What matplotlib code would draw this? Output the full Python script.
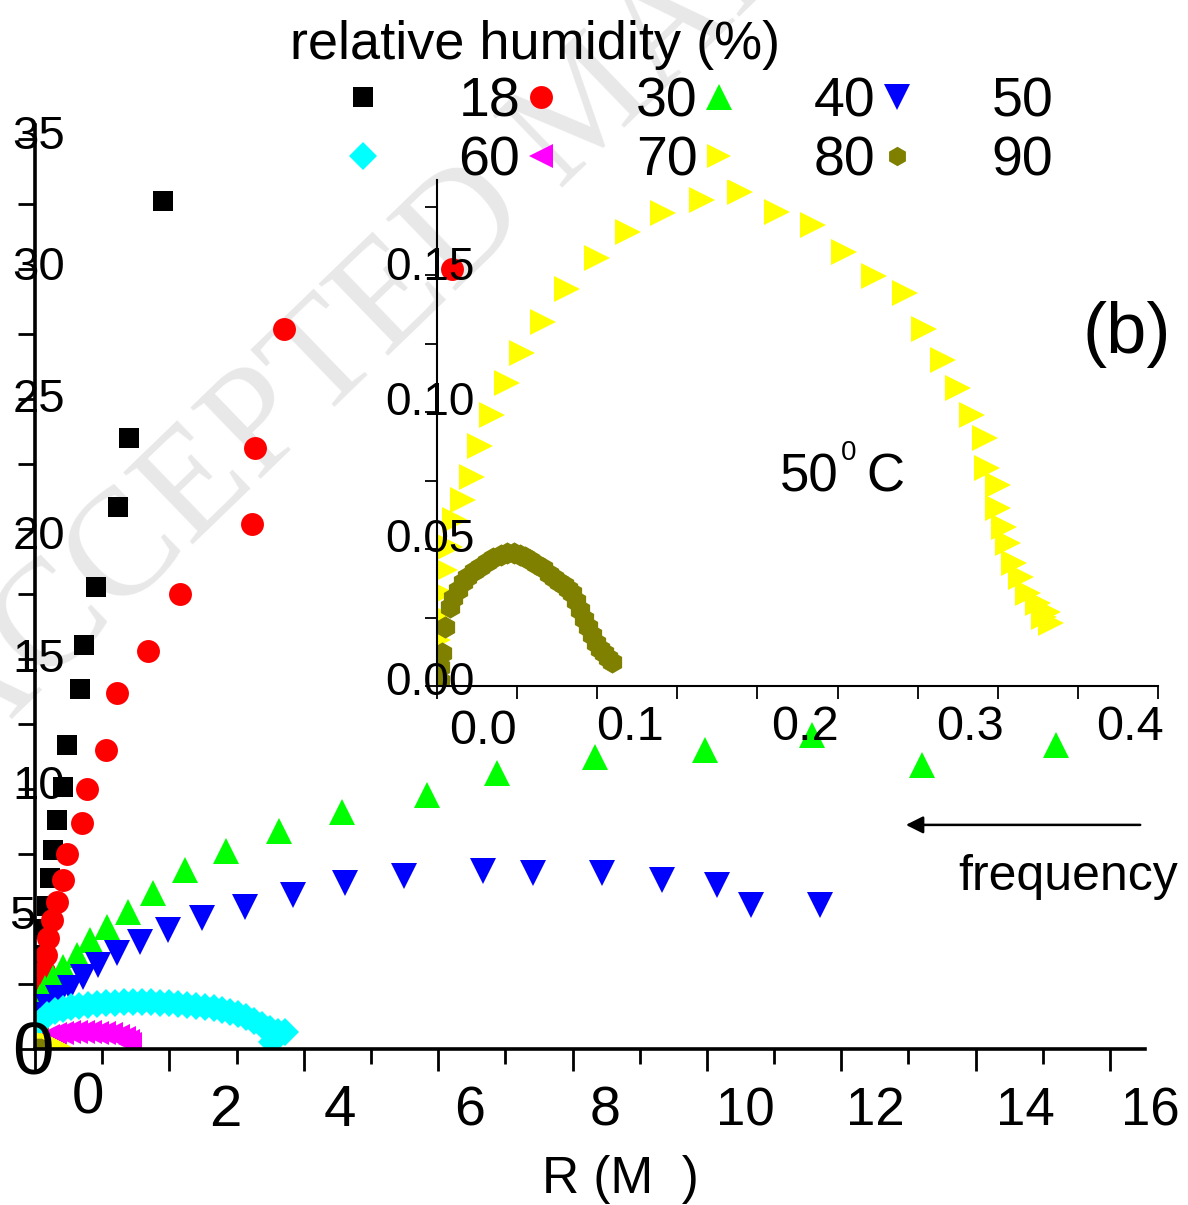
import matplotlib
matplotlib.use('Agg')
import matplotlib.pyplot as plt
from matplotlib.ticker import MultipleLocator

# Nyquist data, main panel (R and X in M-ohm), one list pair per humidity
rh_labels = ['18', '30', '40', '50', '60', '70', '80', '90']

x18 = [1.905, 1.40, 1.235, 0.908, 0.729, 0.670, 0.476, 0.417, 0.327, 0.268, 0.223, 0.18, 0.13, 0.10, 0.07, 0.045, 0.015]
y18 = [32.6, 23.5, 20.85, 17.77, 15.54, 13.85, 11.69, 10.08, 8.81, 7.65, 6.58, 5.5, 4.6, 3.6, 2.65, 1.7, 0.7]

x30 = [6.2, 3.71, 3.27, 3.23, 2.16, 1.68, 1.22, 1.06, 0.77, 0.70, 0.48, 0.42, 0.33, 0.25, 0.19, 0.16, 0.13, 0.10, 0.07, 0.045, 0.03, 0.015]
y30 = [30.0, 27.7, 23.1, 20.2, 17.5, 15.3, 13.7, 11.5, 10.0, 8.7, 7.5, 6.5, 5.65, 4.96, 4.27, 3.6, 3.0, 2.46, 1.9, 1.3, 0.73, 0.15]

x40 = [15.19, 13.20, 11.56, 9.97, 8.33, 6.875, 5.83, 4.57, 3.63, 2.84, 2.23, 1.76, 1.38, 1.07, 0.82, 0.625, 0.42, 0.27, 0.15, 0.07, 0.03]
y40 = [11.69, 10.92, 12.08, 11.5, 11.23, 10.62, 9.77, 9.12, 8.38, 7.62, 6.88, 6.0, 5.27, 4.69, 4.19, 3.62, 3.15, 2.73, 2.35, 2.0, 1.1]

x50 = [11.68, 10.65, 10.15, 9.33, 8.44, 7.41, 6.67, 5.49, 4.61, 3.84, 3.125, 2.485, 1.98, 1.56, 1.22, 0.94, 0.71, 0.52, 0.342, 0.19, 0.10, 0.045]
y50 = [5.54, 5.54, 6.31, 6.5, 6.77, 6.77, 6.85, 6.65, 6.38, 5.92, 5.46, 5.04, 4.58, 4.12, 3.69, 3.23, 2.77, 2.35, 1.96, 1.6, 1.31, 0.92]

x60 = [0.015, 0.074, 0.18, 0.30, 0.42, 0.54, 0.65, 0.79, 0.92, 1.06, 1.19, 1.32, 1.46, 1.59, 1.73, 1.86, 1.99, 2.13, 2.26,
       2.40, 2.53, 2.66, 2.78, 2.90, 3.02, 3.14, 3.26, 3.38, 3.50, 3.62, 3.72, 3.53]
y60 = [0.35, 1.04, 1.31, 1.46, 1.54, 1.62, 1.65, 1.69, 1.73, 1.77, 1.77, 1.81, 1.81, 1.81, 1.81, 1.77, 1.77, 1.73, 1.69,
       1.65, 1.62, 1.58, 1.50, 1.42, 1.35, 1.23, 1.08, 0.92, 0.77, 0.65, 0.65, 0.27]

x70 = [0.045, 0.10, 0.19, 0.30, 0.40, 0.51, 0.61, 0.71, 0.82, 0.92, 1.03, 1.13, 1.24, 1.32, 1.38, 1.41]
y70 = [0.15, 0.35, 0.50, 0.58, 0.62, 0.65, 0.65, 0.65, 0.65, 0.62, 0.62, 0.58, 0.50, 0.42, 0.31, 0.19]

# 80 % and 90 % (also shown enlarged in the inset)
x80 = [0.0006, 0.0013, 0.0031, 0.005, 0.0081, 0.0113, 0.0163, 0.0219, 0.0269, 0.0344, 0.0438, 0.0531, 0.0663, 0.0813,
       0.100, 0.1194, 0.1413, 0.1656, 0.1894, 0.2125, 0.2344, 0.2538, 0.2725, 0.2919, 0.3038, 0.3156, 0.325, 0.3338,
       0.3419, 0.3431, 0.350, 0.350, 0.3538, 0.3563, 0.360, 0.3644, 0.3688, 0.375, 0.3788, 0.3813, 0.3831]
y80 = [0.0168, 0.0259, 0.0339, 0.0423, 0.0507, 0.0606, 0.0679, 0.0763, 0.0876, 0.0989, 0.1106, 0.1215, 0.1328, 0.1449,
       0.1562, 0.1657, 0.1726, 0.1774, 0.1803, 0.1730, 0.1682, 0.1584, 0.1496, 0.1434, 0.1303, 0.1190, 0.1088, 0.0989,
       0.0905, 0.0796, 0.0734, 0.065, 0.058, 0.0522, 0.0449, 0.0398, 0.0339, 0.0303, 0.0252, 0.027, 0.023]

x90 = [0.002, 0.002, 0.003, 0.005, 0.008, 0.010, 0.013, 0.016, 0.019, 0.023, 0.027, 0.031, 0.035, 0.040, 0.044, 0.048,
       0.052, 0.055, 0.058, 0.062, 0.066, 0.070, 0.073, 0.076, 0.079, 0.082, 0.084, 0.087, 0.089, 0.092, 0.094, 0.097,
       0.099, 0.102, 0.104, 0.107, 0.109]
y90 = [0.002, 0.007, 0.012, 0.0215, 0.0288, 0.032, 0.035, 0.0378, 0.0398, 0.0418, 0.0434, 0.0452, 0.0467, 0.0478, 0.0485, 0.0484,
       0.0478, 0.047, 0.046, 0.0445, 0.043, 0.041, 0.0394, 0.038, 0.0369, 0.0355, 0.034, 0.031, 0.0277, 0.0245, 0.0215, 0.0185,
       0.0157, 0.0135, 0.012, 0.0102, 0.0088]

series = [
    (x18, y18, 's', '#000000', 14.5),
    (x30, y30, 'o', '#ff0000', 16.5),
    (x40, y40, '^', '#00ff00', 18.5),
    (x50, y50, 'v', '#0000ff', 18.5),
    (x60, y60, 'D', '#00ffff', 14.5),
    (x70, y70, '<', '#ff00ff', 17),
    (x80, y80, '>', '#ffff00', 17),
    (x90, y90, 'h', '#808000', 14),
]

W, H = 1188, 1205
sans = ['Liberation Sans', 'DejaVu Sans']


def fx(px):
    return px / W


def fy(py):
    return 1 - py / H


fig = plt.figure(figsize=(W / 100, H / 100), dpi=100)

# faint watermark behind everything (below the axes)
fig.text(fx(591), fy(110), 'ACCEPTED MANUSCRIPT', rotation=44, rotation_mode='anchor',
         ha='center', va='center', fontsize=110, color='#e8e8e8',
         family=['Liberation Serif', 'DejaVu Serif'], zorder=-5)

# main axes
ax = fig.add_axes([fx(35), fy(1049), fx(1145) - fx(35), fy(125) - fy(1049)])
ax.set_facecolor('none')
ax.set_xlim(0, 16.52)
ax.set_ylim(0, 35.54)
for s in ['top', 'right']:
    ax.spines[s].set_visible(False)
for s in ['left', 'bottom']:
    ax.spines[s].set_linewidth(2.6)
ax.xaxis.set_major_locator(MultipleLocator(2))
ax.xaxis.set_minor_locator(MultipleLocator(1))
ax.yaxis.set_major_locator(MultipleLocator(5))
ax.yaxis.set_minor_locator(MultipleLocator(2.5))
ax.tick_params(axis='both', which='both', direction='out', width=2,
               labelbottom=False, labelleft=False)
ax.tick_params(axis='x', which='major', length=16)
ax.tick_params(axis='x', which='minor', length=11)
ax.tick_params(axis='y', which='both', length=12)

handles = []
for xs, ys, mk, col, ms in series:
    h, = ax.plot(xs, ys, ls='none', marker=mk, ms=ms, color=col, mew=0)
    handles.append(h)

# frequency arrow
ax.annotate('', xy=(12.92, 8.62), xytext=(16.49, 8.62), annotation_clip=False,
            arrowprops=dict(arrowstyle='-|>', lw=1.8, color='k', mutation_scale=26))

# inset
ins = fig.add_axes([fx(437), fy(686), fx(1158) - fx(437), fy(180) - fy(686)])
ins.set_facecolor('none')
ins.set_xlim(0, 0.45)
ins.set_ylim(0, 0.1847)
for s in ['top', 'right']:
    ins.spines[s].set_visible(False)
for s in ['left', 'bottom']:
    ins.spines[s].set_linewidth(1.5)
ins.xaxis.set_major_locator(MultipleLocator(0.1))
ins.xaxis.set_minor_locator(MultipleLocator(0.05))
ins.yaxis.set_major_locator(MultipleLocator(0.05))
ins.yaxis.set_minor_locator(MultipleLocator(0.025))
ins.tick_params(axis='both', which='both', direction='out', width=1.3, length=9,
                labelbottom=False, labelleft=False)
ins.plot(x80, y80, ls='none', marker='>', ms=19, color='#ffff00', mew=0)
ins.plot(x90, y90, ls='none', marker='h', ms=16, color='#808000', mew=0)

# tick labels, placed as they appear in the figure
main_xlabels = [('0', 88, 1099, 42), ('2', 225, 1111, 42), ('4', 340, 1111, 42),
                ('6', 470, 1111, 40), ('8', 605, 1111, 40), ('10', 745, 1111, 38),
                ('12', 875, 1111, 38), ('14', 1025, 1111, 38), ('16', 1150, 1111, 38)]
for t, px, py, fs in main_xlabels:
    fig.text(fx(px), fy(py), t, ha='center', va='center', fontsize=fs, family=sans)

main_ylabels = [('35', 39, 137), ('30', 39, 268), ('25', 39, 400), ('20', 39, 537),
                ('15', 39, 660), ('10', 39, 787), ('5', 22, 917)]
for t, px, py in main_ylabels:
    fig.text(fx(px), fy(py), t, ha='center', va='center', fontsize=34, family=sans)
fig.text(fx(33), fy(1055), '0', ha='center', va='center', fontsize=54, family=sans)

ins_xlabels = [('0.0', 483, 732), ('0.1', 630, 728), ('0.2', 805, 728), ('0.3', 970, 728), ('0.4', 1130, 728)]
for t, px, py in ins_xlabels:
    fig.text(fx(px), fy(py), t, ha='center', va='center', fontsize=35, family=sans)

ins_ylabels = [('0.15', 430, 268), ('0.10', 430, 403), ('0.05', 430, 540), ('0.00', 430, 683)]
for t, px, py in ins_ylabels:
    fig.text(fx(px), fy(py), t, ha='center', va='center', fontsize=33, family=sans)

# other annotations
fig.text(fx(620), fy(1180), 'R (M  )', ha='center', va='center', fontsize=37, family=sans)
fig.text(fx(1127), fy(335), '(b)', ha='center', va='center', fontsize=52, family=sans)
fig.text(fx(780), fy(478), '50', ha='left', va='center', fontsize=38, family=sans)
fig.text(fx(849), fy(453), '0', ha='center', va='center', fontsize=20, family=sans)
fig.text(fx(866), fy(478), 'C', ha='left', va='center', fontsize=38, family=sans)
fig.text(fx(1068), fy(877), 'frequency', ha='center', va='center', fontsize=36, family=sans)
fig.text(fx(290), fy(45), 'relative humidity (%)', ha='left', va='center', fontsize=39, family=sans)

# legend: two rows of four, filled column by column
order = [0, 4, 1, 5, 2, 6, 3, 7]
leg = fig.legend([handles[i] for i in order], [rh_labels[i] for i in order], ncol=4,
                 loc='center left', bbox_to_anchor=(fx(344), fy(132)), frameon=False,
                 prop=dict(family=sans, size=40), handlelength=0.7, handletextpad=1.36,
                 columnspacing=0.03, borderpad=0, borderaxespad=0, labelspacing=0.12,
                 markerscale=1.0)

fig.savefig('out.png', dpi=100)
